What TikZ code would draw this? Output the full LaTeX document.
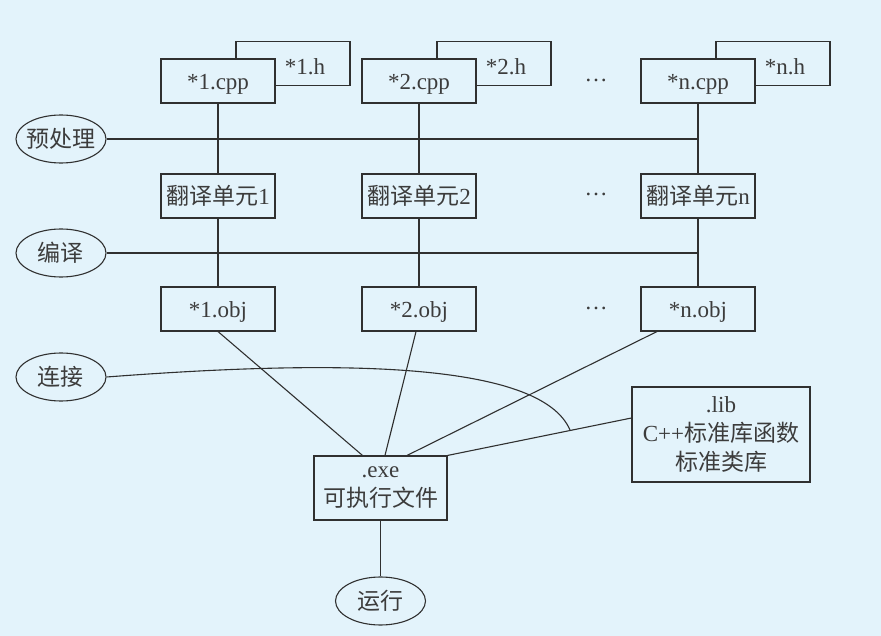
\documentclass[tikz,border=0pt]{standalone}
\usepackage{fontspec}
\setmainfont{Liberation Serif}
\newfontfamily\cjk{Noto Sans CJK SC}
\usetikzlibrary{shapes.geometric}
\definecolor{bg}{HTML}{E3F3FB}
\definecolor{ln}{HTML}{303030}
\definecolor{tx}{HTML}{3C3C3C}
\newcommand{\zh}[1]{{\cjk #1}}
\newcommand{\dn}[1]{\raisebox{-3pt}[\height][\depth]{#1}}
\begin{document}
\begin{tikzpicture}[x=1pt,y=-1pt,
  every node/.style={font=\fontsize{23}{28}\selectfont, text=tx},
  box/.style={draw=ln, line width=1.1pt, fill=bg, rectangle, inner sep=0pt, minimum width=114pt, minimum height=44pt},
  oval/.style={draw=ln, line width=1.1pt, fill=bg, ellipse, inner sep=0pt, minimum width=90pt, minimum height=48pt},
  conn/.style={draw=ln, line width=1.1pt}]
\fill[bg] (0,0) rectangle (881,636);
\useasboundingbox (0,0) rectangle (881,636);

% header files (behind)
\node[box] (h1) at (293,63.5) {\hspace*{24pt}\dn{*1.h}};
\node[box] (h2) at (494,63.5) {\hspace*{24pt}\dn{*2.h}};
\node[box] (hn) at (773,63.5) {\hspace*{24pt}\dn{*n.h}};
% cpp files
\node[box] (c1) at (218,81) {\dn{*1.cpp}};
\node[box] (c2) at (419,81) {\dn{*2.cpp}};
\node[box] (cn) at (698,81) {\dn{*n.cpp}};
% translation units
\node[box] (t1) at (218,196) {\zh{翻译单元}1};
\node[box] (t2) at (419,196) {\zh{翻译单元}2};
\node[box] (tn) at (698,196) {\zh{翻译单元}n};
% objects
\node[box] (o1) at (218,309) {\dn{*1.obj}};
\node[box] (o2) at (419,309) {\dn{*2.obj}};
\node[box] (on) at (698,309) {\dn{*n.obj}};
% dots
\node (d1) at (596,80) {…};
\node (d2) at (596,194) {…};
\node (d3) at (596,308) {…};
% ellipses
\node[oval] (pre) at (61,139) {\makebox[40pt]{\zh{预处理}}};
\node[oval] (cmp) at (61,253) {\makebox[40pt]{\zh{编译}}};
\node[oval] (lnk) at (61,377) {\makebox[40pt]{\zh{连接}}};
\node[oval] (run) at (380.5,601) {\makebox[40pt]{\zh{运行}}};
% exe and lib
\node[box, minimum width=133pt, minimum height=64pt, align=center, font=\fontsize{23}{29}\selectfont] (exe) at (380.5,488) {.exe\\\zh{可执行文件}};
\node[box, minimum width=178pt, minimum height=95pt, align=center, font=\fontsize{23}{29}\selectfont] (lib) at (721,434.5) {.lib\\C++\zh{标准库函数}\\\zh{标准类库}};

% vertical lines
\draw[conn] (c1) -- (t1); \draw[conn] (t1) -- (o1);
\draw[conn] (c2) -- (t2); \draw[conn] (t2) -- (o2);
\draw[conn] (cn) -- (tn); \draw[conn] (tn) -- (on);
% horizontal lines
\draw[conn] (pre.east) -- (pre.east -| tn.north);
\draw[conn] (cmp.east) -- (cmp.east -| tn.north);
% links to exe
\draw[conn] (o1.south) -- ([xshift=-18pt]exe.north);
\draw[conn] ([xshift=-3pt]o2.south) -- ([xshift=4.5pt]exe.north);
\draw[conn] ([xshift=-41pt]on.south) -- ([xshift=26.5pt]exe.north);
\draw[conn] ([yshift=16.5pt]lib.west) -- (exe.north east);
% link curve
\coordinate (lnkend) at (570,430);
\draw[conn] (lnk.east) .. controls (330,360) and (540,360) .. (lnkend);
% run
\draw[conn] (exe) -- (run);
\end{tikzpicture}
\end{document}
